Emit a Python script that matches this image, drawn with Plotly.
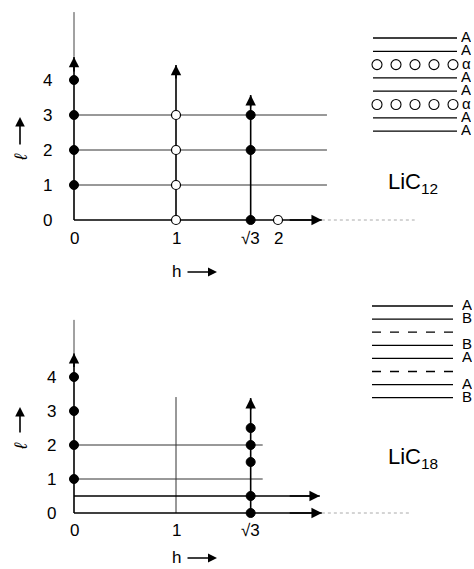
import math
import plotly.graph_objects as go

S3 = math.sqrt(3)
FONT = "Liberation Sans"

# ---------------- data ----------------
# Top panel (LiC12)
top_filled_h = [0, 0, 0, 0, S3, S3, S3]
top_filled_l = [1, 2, 3, 4, 0, 2, 3]
top_open_h = [1, 1, 1, 1, 2]
top_open_l = [0, 1, 2, 3, 0]
top_hlines = [1, 2, 3]
top_h_ticks = [0, 1, S3, 2]
top_h_ticklabels = ["0", "1", "√3", "2"]
top_l_ticks = [0, 1, 2, 3, 4]
top_layers = ["A", "A", "α", "A", "A", "α", "A", "A"]
top_layer_style = ["solid", "solid", "circles", "solid", "solid", "circles", "solid", "solid"]

# Bottom panel (LiC18)
bot_filled_h = [0, 0, 0, 0, S3, S3, S3, S3, S3]
bot_filled_l = [1, 2, 3, 4, 0, 0.5, 1.5, 2, 2.5]
bot_hlines = [1, 2]
bot_h_ticks = [0, 1, S3]
bot_h_ticklabels = ["0", "1", "√3"]
bot_l_ticks = [0, 1, 2, 3, 4]
bot_layers = ["A", "B", "", "B", "A", "", "A", "B"]
bot_layer_style = ["solid", "solid", "dash", "solid", "solid", "dash", "solid", "solid"]

W, H = 474, 569
fig = go.Figure()

def line(xs, ys, yax, width=1.6, color="black", dash="solid"):
    fig.add_trace(go.Scatter(x=xs, y=ys, mode="lines", xaxis="x", yaxis=yax,
                             line=dict(color=color, width=width, dash=dash),
                             hoverinfo="skip", showlegend=False))

ann = []
def arrow(x0, y0, x1, y1, xref, yref, width=1.6, size=1.3):
    ann.append(dict(x=x1, y=y1, ax=x0, ay=y0, xref=xref, yref=yref, axref=xref, ayref=yref,
                    text="", showarrow=True, arrowhead=2, arrowsize=size, arrowwidth=width,
                    arrowcolor="black", standoff=0, startstandoff=0))

def label(x, y, text, xref, yref, size=16, angle=0, height=None):
    d = dict(x=x, y=y, xref=xref, yref=yref, text=text, showarrow=False,
             textangle=angle, font=dict(family=FONT, size=size, color="black"))
    if height:
        d["height"] = height
    ann.append(d)

# ---------------- top panel ----------------
for l in top_hlines:
    line([0, 2.48], [l, l], "y", width=1.0, color="#333")
line([0, 0], [0, 4.66], "y")
line([0, 0], [4.66, 5.94], "y", width=1.0, color="#444")
line([1, 1], [0, 4.43], "y")
line([S3, S3], [0, 3.57], "y")
line([0, 2.43], [0, 0], "y")
line([2.43, 3.34], [0, 0], "y", width=1.0, color="#aaa", dash="dot")
arrow(0, 4.2, 0, 4.66, "x", "y")
arrow(1, 4.0, 1, 4.43, "x", "y")
arrow(S3, 3.2, S3, 3.57, "x", "y")
arrow(2.1, 0, 2.43, 0, "x", "y")

fig.add_trace(go.Scatter(x=top_filled_h, y=top_filled_l, mode="markers", xaxis="x", yaxis="y",
                         marker=dict(size=9, color="black", line=dict(width=1, color="black")),
                         hoverinfo="skip", showlegend=False))
fig.add_trace(go.Scatter(x=top_open_h, y=top_open_l, mode="markers", xaxis="x", yaxis="y",
                         marker=dict(size=9, color="white", line=dict(width=1.2, color="black")),
                         hoverinfo="skip", showlegend=False))

for t in top_l_ticks:
    label(-0.255, t, str(t), "x", "y", size=17)
for t, s in zip(top_h_ticks, top_h_ticklabels):
    label(t, -0.53, s, "x", "y", size=17)

# ---------------- bottom panel ----------------
for l in bot_hlines:
    line([0, 1.85], [l, l], "y2", width=1.0, color="#333")
line([0, 0], [0, 4.7], "y2")
line([0, 0], [4.7, 5.68], "y2", width=1.0, color="#444")
line([1, 1], [0, 3.41], "y2", width=1.0, color="#333")
line([S3, S3], [0, 3.38], "y2")
line([0, 2.41], [0.5, 0.5], "y2")
line([0, 2.43], [0, 0], "y2")
line([2.43, 3.31], [0, 0], "y2", width=1.0, color="#aaa", dash="dot")
arrow(0, 4.25, 0, 4.7, "x", "y2")
arrow(S3, 3.0, S3, 3.38, "x", "y2")
arrow(2.1, 0.5, 2.41, 0.5, "x", "y2")
arrow(2.1, 0, 2.43, 0, "x", "y2")

fig.add_trace(go.Scatter(x=bot_filled_h, y=bot_filled_l, mode="markers", xaxis="x", yaxis="y2",
                         marker=dict(size=9, color="black", line=dict(width=1, color="black")),
                         hoverinfo="skip", showlegend=False))

for t in bot_l_ticks:
    label(-0.216, t, str(t), "x", "y2", size=17)
for t, s in zip(bot_h_ticks, bot_h_ticklabels):
    label(t, -0.5, s, "x", "y2", size=17)

# axis titles (pixel space, x3/y3): letter + drawn arrow
for yy in (272, 558):
    label(176, yy - 1, "h", "x3", "y3", size=17)
    arrow(186, yy, 217, yy, "x3", "y3", width=1.5, size=1.2)
for yy, ya0, ya1 in ((157, 146, 117), (446, 434, 407)):
    label(21, yy, "<i>ℓ</i>", "x3", "y3", size=18, angle=-90)
    arrow(20, ya0, 20, ya1, "x3", "y3", width=1.6, size=1.2)

# ---------------- stacking diagrams (pixel space) ----------------
def stacking(layers, styles, y0, dy, x0, x1, labx, labsize):
    for i, (lab, st) in enumerate(zip(layers, styles)):
        y = y0 + i * dy
        if st == "circles":
            xs = [x0 + 4 + k * (x1 - x0 - 8) / 4 for k in range(5)]
            fig.add_trace(go.Scatter(x=xs, y=[y] * 5, mode="markers", xaxis="x3", yaxis="y3",
                                     marker=dict(size=10, color="white", line=dict(width=1.1, color="black")),
                                     hoverinfo="skip", showlegend=False))
        else:
            fig.add_trace(go.Scatter(x=[x0, x1], y=[y, y], mode="lines", xaxis="x3", yaxis="y3",
                                     line=dict(color="black", width=1.3, dash="dash" if st == "dash" else "solid"),
                                     hoverinfo="skip", showlegend=False))
        if lab:
            label(labx, y - 2, lab, "x3", "y3", size=labsize, height=12)

stacking(top_layers, top_layer_style, 38, 13.3, 373, 457, 466, 15)
stacking(bot_layers, bot_layer_style, 306, 13.1, 372, 453, 467, 15)

label(413, 183, "LiC<sub>12</sub>", "x3", "y3", size=22)
label(413, 458, "LiC<sub>18</sub>", "x3", "y3", size=22)

fig.update_layout(
    width=W, height=H, margin=dict(l=0, r=0, t=0, b=0), autosize=False,
    paper_bgcolor="white", plot_bgcolor="white", showlegend=False,
    xaxis=dict(domain=[0, 1], range=[-74 / 102, (W - 74) / 102], visible=False, fixedrange=True),
    yaxis=dict(domain=[0, 1], range=[-(H - 220) / 35, 220 / 35], visible=False, fixedrange=True),
    yaxis2=dict(overlaying="y", range=[-(H - 513) / 34, 513 / 34], visible=False, fixedrange=True),
    xaxis3=dict(overlaying="x", range=[0, W], visible=False, fixedrange=True),
    yaxis3=dict(overlaying="y", anchor="x3", range=[H, 0], visible=False, fixedrange=True),
    annotations=ann,
)
fig.write_html("out.html", config={"displayModeBar": False},
               post_script="document.body.style.margin='0';document.body.style.overflow='hidden';")
